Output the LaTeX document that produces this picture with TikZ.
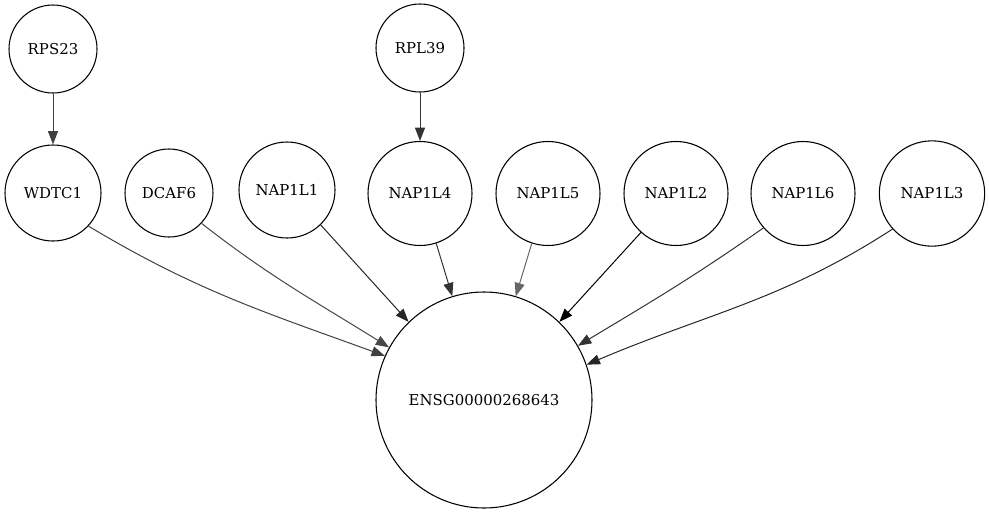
\documentclass[tikz,border=0pt]{standalone}
\usepackage{fontspec}
\setmainfont{DejaVu Serif}
\usetikzlibrary{arrows.meta}
\tikzset{
  gene/.style={draw, circle, line width=0.8pt, inner sep=0pt, font=\fontsize{11.2}{13}\selectfont},
  edge/.style={->, line width=0.75pt}
}
\begin{document}
\begin{tikzpicture}[x=0.75pt, y=-0.75pt, >={Triangle[length=10pt,width=7.5pt]}]
  \useasboundingbox (0,0) rectangle (989,515);
  % top row
  \node [gene, minimum size=66pt] (rps23) at (53,49) {RPS23};
  \node [gene, minimum size=66pt] (rpl39) at (420,48) {RPL39};
  % middle row
  \node [gene, minimum size=72pt] (wdtc1) at (53,193) {WDTC1};
  \node [gene, minimum size=66pt] (dcaf6) at (169,193) {DCAF6};
  \node [gene, minimum size=72pt] (nap1l1) at (287,190) {NAP1L1};
  \node [gene, minimum size=78pt] (nap1l4) at (420,193.5) {NAP1L4};
  \node [gene, minimum size=78pt] (nap1l5) at (548,193.5) {NAP1L5};
  \node [gene, minimum size=78pt] (nap1l2) at (676,193.5) {NAP1L2};
  \node [gene, minimum size=78pt] (nap1l6) at (803,193.5) {NAP1L6};
  \node [gene, minimum size=79pt] (nap1l3) at (932,193.5) {NAP1L3};
  % target
  \node [gene, minimum size=162pt] (ensg) at (484,400) {ENSG00000268643};
  % edges
  \draw [edge, black!75] (rps23) -- (wdtc1);
  \draw [edge, black!80] (rpl39) -- (nap1l4);
  \draw [edge, black!75] (wdtc1.-43) to[out=-31, in=160] (ensg.156);
  \draw [edge, black!72] (dcaf6.-43) to[out=-38, in=148] (ensg.151);
  \draw [edge, black!85] (nap1l1.-46) -- (ensg.134);
  \draw [edge, black!80] (nap1l4.-72) -- (ensg.107);
  \draw [edge, black!60] (nap1l5.-108) -- (ensg.73);
  \draw [edge, black] (nap1l2.-132) -- (ensg.46.5);
  \draw [edge, black!80] (nap1l6.-139) to[out=-145, in=31] (ensg.30);
  \draw [edge, black!85] (nap1l3.-138) to[out=-147, in=23] (ensg.19);
\end{tikzpicture}
\end{document}
